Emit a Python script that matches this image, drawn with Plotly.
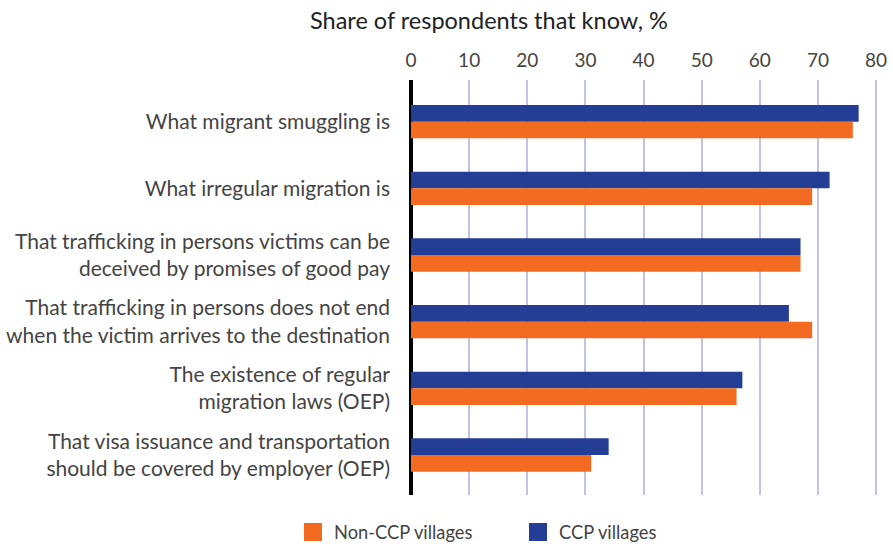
import plotly.graph_objects as go

# Survey items (top to bottom) and shares of respondents, %
categories = [
    "What migrant smuggling is",
    "What irregular migration is",
    "That trafficking in persons victims can be<br>deceived by promises of good pay",
    "That trafficking in persons does not end<br>when the victim arrives to the destination",
    "The existence of regular<br>migration laws (OEP)",
    "That visa issuance and transportation<br>should be covered by employer (OEP)",
]
ccp_values = [77, 72, 67, 65, 57, 34]
non_ccp_values = [76, 69, 67, 69, 56, 31]
x_ticks = [0, 10, 20, 30, 40, 50, 60, 70, 80]

CCP_COLOR = "#233e94"
NON_CCP_COLOR = "#f26b21"
FONT = "Lato, 'Open Sans', sans-serif"

fig = go.Figure()
fig.add_trace(go.Bar(
    y=categories, x=ccp_values, orientation="h", name="CCP villages",
    marker=dict(color=CCP_COLOR, line=dict(width=0)), showlegend=False,
))
fig.add_trace(go.Bar(
    y=categories, x=non_ccp_values, orientation="h", name="Non-CCP villages",
    marker=dict(color=NON_CCP_COLOR, line=dict(width=0)), showlegend=False,
))

W, H = 893, 548
ml, mr, mt, mb = 411, 14, 80, 53

fig.update_layout(
    width=W, height=H,
    margin=dict(l=ml, r=mr, t=mt, b=mb, pad=0, autoexpand=False),
    paper_bgcolor="white", plot_bgcolor="white",
    barmode="group", bargap=0.5, bargroupgap=0,
    font=dict(family=FONT, color="#444444", size=19),
    xaxis=dict(
        side="top", range=[0, 80.5], tickvals=x_ticks,
        ticktext=[str(v) for v in x_ticks],
        showgrid=True, gridcolor="#c0c4e2", gridwidth=2,
        zeroline=True, zerolinecolor="#000000", zerolinewidth=4,
        ticks="", ticklabelstandoff=8, automargin=False,
        tickfont=dict(size=19, color="#444444"),
        fixedrange=True,
    ),
    yaxis=dict(
        type="category", range=[5.6, -0.625],
        showgrid=False, zeroline=False, showline=False,
        ticks="", ticklabelstandoff=20, automargin=False,
        tickfont=dict(size=21, color="#444444"),
        fixedrange=True,
    ),
    showlegend=False,
)

# Chart heading above the value axis
fig.add_annotation(
    text="Share of respondents that know, %", xref="paper", yref="paper",
    x=(489 - ml) / (W - ml - mr), y=1 + (80 - 20) / (H - mt - mb),
    xanchor="center", yanchor="middle", showarrow=False,
    font=dict(size=23.5, color="#222222", family=FONT),
)

# Legend: coloured squares with labels underneath the plot
plot_w = W - ml - mr
plot_h = H - mt - mb
def px_x(px):
    return (px - ml) / plot_w
def px_y(py):
    return (H - mb - py) / plot_h

legend_items = [("Non-CCP villages", NON_CCP_COLOR, 304), ("CCP villages", CCP_COLOR, 529)]
for label, color, x0 in legend_items:
    fig.add_shape(
        type="rect", xref="paper", yref="paper",
        x0=px_x(x0), x1=px_x(x0 + 18), y0=px_y(541), y1=px_y(523),
        fillcolor=color, line=dict(width=0),
    )
    fig.add_annotation(
        text=label, xref="paper", yref="paper",
        x=px_x(x0 + 28), y=px_y(532), xanchor="left", yanchor="middle",
        showarrow=False, font=dict(size=18.3, color="#444444", family=FONT),
    )

fig.write_html("out.html", config=dict(displayModeBar=False))
